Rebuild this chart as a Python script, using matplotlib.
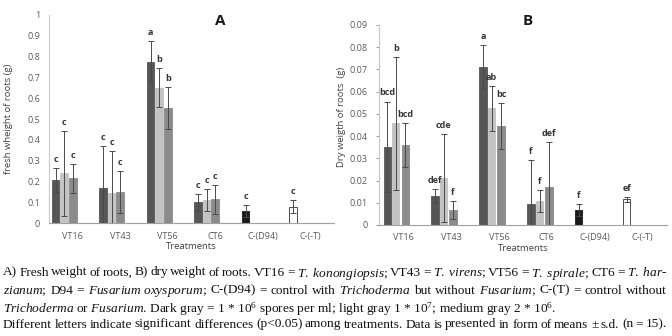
"""
Root weight bar charts (A: fresh, B: dry) with caption
"""

import re
import numpy as np
import matplotlib
matplotlib.use("Agg")
import matplotlib.pyplot as plt

plt.rcParams['font.family'] = ['Open Sans', 'DejaVu Sans']
plt.rcParams['mathtext.fontset'] = 'custom'
plt.rcParams['mathtext.rm'] = 'Liberation Serif'
plt.rcParams['mathtext.it'] = 'Liberation Serif:italic'

# ----------------------------------------------------------------------------
# Data
# ----------------------------------------------------------------------------
treatments = ['VT16', 'VT43', 'VT56', 'CT6', 'C-(D94)', 'C-(-T)']

# first slot: dark gray (and the two controls)
fresh_dark = [0.208, 0.171, 0.776, 0.101, 0.059, 0.080]
fresh_dark_err = [0.056, 0.200, 0.100, 0.040, 0.029, 0.032]
fresh_light = [0.240, 0.144, 0.651, 0.110, np.nan, np.nan]
fresh_light_err = [0.203, 0.203, 0.093, 0.053, np.nan, np.nan]
fresh_medium = [0.216, 0.150, 0.555, 0.115, np.nan, np.nan]
fresh_medium_err = [0.069, 0.100, 0.100, 0.069, np.nan, np.nan]
fresh_dark_let = ['c', 'c', 'a', 'c', 'c', 'c']
fresh_light_let = ['c', 'c', 'b', 'c', '', '']
fresh_medium_let = ['c', 'c', 'b', 'c', '', '']

dry_dark = [0.0352, 0.0130, 0.0712, 0.0094, 0.0067, 0.0115]
dry_dark_err = [0.0203, 0.0032, 0.0098, 0.0198, 0.0027, 0.0012]
dry_light = [0.0457, 0.0210, 0.0525, 0.0108, np.nan, np.nan]
dry_light_err = [0.0300, 0.0198, 0.0100, 0.0049, np.nan, np.nan]
dry_medium = [0.0360, 0.0067, 0.0445, 0.0172, np.nan, np.nan]
dry_medium_err = [0.0097, 0.0041, 0.0102, 0.0200, np.nan, np.nan]
dry_dark_let = ['bcd', 'def', 'a', 'f', 'f', 'ef']
dry_light_let = ['b', 'cde', 'ab', 'f', '', '']
dry_medium_let = ['bcd', 'f', 'bc', 'def', '', '']

DARK = '#565656'
LIGHT = '#c3c3c3'
MEDIUM = '#8b8b8b'
first_colors = [DARK, DARK, DARK, DARK, '#1a1a1a', 'white']
TICK_COLOR = '#595959'


def plot_panel(ax, series, offsets, width, ylim, yticks, ytick_fmt, ylabel, title, title_xy):
    x = np.arange(len(treatments))
    for (vals, errs, lets, colors), off in zip(series, offsets):
        vals = np.array(vals, dtype=float)
        errs = np.array(errs, dtype=float)
        ok = ~np.isnan(vals)
        xs = x[ok] + off
        ec = ['#333333' if c == 'white' else c for c in np.array(colors)[ok]]
        ax.bar(xs, vals[ok], width=width, color=np.array(colors)[ok],
               edgecolor=ec, linewidth=0.6, zorder=2)
        ax.errorbar(xs, vals[ok], yerr=errs[ok], fmt='none', ecolor='#4a4a4a',
                    elinewidth=0.7, capsize=2.2, capthick=0.7, zorder=3)
        for xi, v, e, lab in zip(xs, vals[ok], errs[ok], np.array(lets)[ok]):
            if lab:
                ax.annotate(lab, (xi, v + e), xytext=(0, 3), textcoords='offset points',
                            ha='center', va='bottom', fontsize=6.5, fontweight='bold',
                            color='#333333')

    ax.set_xlim(-0.5, len(treatments) - 0.5)
    ax.set_ylim(*ylim)
    ax.set_yticks(yticks)
    ax.set_yticklabels([ytick_fmt(t) for t in yticks])
    ax.set_xticks(x)
    ax.set_xticklabels(treatments)
    ax.tick_params(axis='both', labelsize=6.5, colors=TICK_COLOR, length=0)
    ax.tick_params(axis='x', pad=6)
    ax.set_xlabel('Treatments', fontsize=6.8, color='#404040', labelpad=1)
    ax.set_ylabel(ylabel, fontsize=6.8, color='#404040')
    for side in ['top', 'right']:
        ax.spines[side].set_visible(False)
    ax.spines['bottom'].set_color('#a0a0a0')
    ax.spines['bottom'].set_linewidth(0.8)
    ax.spines['left'].set_color('#c8c8c8')
    ax.spines['left'].set_linewidth(0.8)
    ax.text(title_xy[0], title_xy[1], title, transform=ax.transAxes, fontsize=11,
            fontweight='bold', ha='center', va='center', color='#1a1a1a')


fig = plt.figure(figsize=(6.72, 3.36), dpi=100)
axA = fig.add_axes([0.0729, 0.3354, 0.4241, 0.62])
axB = fig.add_axes([0.564, 0.3304, 0.428, 0.5952])

plot_panel(axA,
           [(fresh_dark, fresh_dark_err, fresh_dark_let, first_colors),
            (fresh_light, fresh_light_err, fresh_light_let, [LIGHT] * 6),
            (fresh_medium, fresh_medium_err, fresh_medium_let, [MEDIUM] * 6)],
           offsets=[-0.36, -0.18, 0.0], width=0.16,
           ylim=(0, 1), yticks=np.round(np.arange(0, 1.01, 0.1), 1),
           ytick_fmt=lambda t: '0' if t == 0 else ('1' if t == 1 else f'{t:.1f}'),
           ylabel='fresh wheight of roots (g)', title='A', title_xy=(0.6, 0.97))
axA.tick_params(axis='y', pad=6.5)
axA.yaxis.set_label_coords(-0.125, 0.5)

plot_panel(axB,
           [(dry_dark, dry_dark_err, dry_dark_let, first_colors),
            (dry_light, dry_light_err, dry_light_let, [LIGHT] * 6),
            (dry_medium, dry_medium_err, dry_medium_let, [MEDIUM] * 6)],
           offsets=[-0.33, -0.15, 0.045], width=0.15,
           ylim=(0, 0.09), yticks=np.round(np.arange(0, 0.091, 0.01), 2),
           ytick_fmt=lambda t: '0' if t == 0 else f'{t:.2f}',
           ylabel='Dry weigth of roots  (g)', title='B', title_xy=(0.518, 1.02))
axB.tick_params(axis='y', length=2.5, color='#a0a0a0', pad=5.5)
axB.yaxis.set_label_coords(-0.115, 0.54)

# caption, justified like the printed figure legend
caption = [
    r"A) Fresh weight of roots, B) dry weight of roots. VT16 = $\mathit{T.\ konongiopsis}$; "
    r"VT43 = $\mathit{T.\ virens}$; VT56 = $\mathit{T.\ spirale}$; CT6 = $\mathit{T.\ har}$-",
    r"$\mathit{zianum}$; D94 = $\mathit{Fusarium\ oxysporum}$; C-(D94) = control with "
    r"$\mathit{Trichoderma}$ but without $\mathit{Fusarium}$; C-(T) = control without",
    r"$\mathit{Trichoderma}$ or $\mathit{Fusarium}$. Dark gray = 1 * 10$^6$ spores per ml; "
    r"light gray 1 * 10$^7$; medium gray 2 * 10$^6$.",
    r"Different letters indicate significant differences (p<0.05) among treatments. "
    r"Data is presented in form of means ± s.d. (n = 15).",
]
justify = [True, True, False, True]
line_y = [271, 289, 307, 323]
x0, x1 = 3, 667
MIN_GAP = 2.0
cap_kw = dict(family='Liberation Serif', ha='left', va='center_baseline', color='#111111')

renderer = fig.canvas.get_renderer()
lines = []
for txt, yy, just in zip(caption, line_y, justify):
    words = re.split(r'(?<!\\) ', txt) if just else [txt]
    items = [fig.text(0, 1 - yy / 336, w, fontsize=10, **cap_kw) for w in words]
    lines.append(items)

# largest size that lets every justified line fit with a normal word gap
scale = 1.0
for items, just in zip(lines, justify):
    if just:
        w = sum(t.get_window_extent(renderer).width for t in items)
        scale = min(scale, (x1 - x0 - MIN_GAP * (len(items) - 1)) / w)
size = 10 * scale

for items, just in zip(lines, justify):
    for t in items:
        t.set_fontsize(size)
    widths = [t.get_window_extent(renderer).width for t in items]
    gap = (x1 - x0 - sum(widths)) / (len(items) - 1) if just else 0
    pos = x0
    for t, w in zip(items, widths):
        t.set_x(pos / 672)
        pos += w + gap

fig.savefig('out.png', dpi=100)
